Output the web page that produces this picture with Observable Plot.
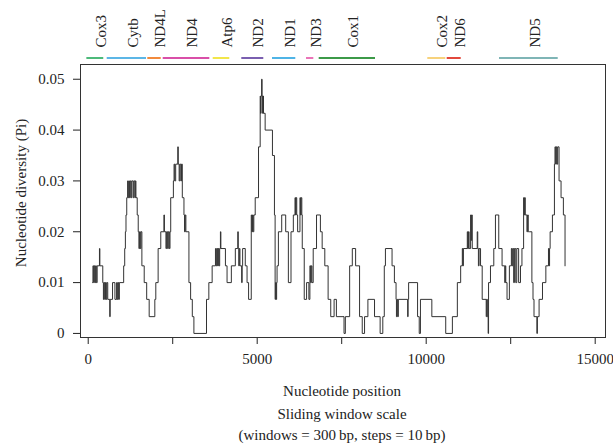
<!DOCTYPE html>
<html>
<head>
<meta charset="utf-8">
<script src="https://cdn.jsdelivr.net/npm/d3@7"></script>
<script src="https://cdn.jsdelivr.net/npm/@observablehq/plot@0.6"></script>
<style>
  html, body { margin: 0; padding: 0; background: #fff; }
  #wrap { position: relative; width: 613px; height: 445px; font-family: "Liberation Serif", "Times New Roman", serif; color: #222; }
  .lab { position: absolute; white-space: nowrap; font-size: 15px; line-height: 18px; transform: translate(-50%, -50%); }
  #ylab { left: 21px; top: 193px; transform: translate(-50%, -50%) rotate(-90deg); }
</style>
</head>
<body>
<div id="wrap">
  <div id="chart"></div>
  <div class="lab" id="ylab">Nucleotide diversity (Pi)</div>
  <div class="lab" style="left:342px; top:391px;">Nucleotide position</div>
  <div class="lab" style="left:342px; top:414px;">Sliding window scale</div>
  <div class="lab" style="left:342px; top:435px;">(windows = 300&#8201;bp, steps = 10&#8201;bp)</div>
</div>
<script>
// Sliding-window change points (nucleotide position) and nucleotide diversity (Pi)
const positions = [130,140,160,180,200,220,240,265,333,345,431,450,470,490,510,530,550,578,637,650,720,790,840,860,880,900,922,1049,1080,1100,1118,1140,1167,1180,1200,1220,1245,1270,1290,1330,1350,1380,1395,1412,1450,1480,1500,1520,1540,1560,1588,1657,1730,1804,1971,2000,2069,2147,2240,2255,2300,2320,2350,2370,2400,2420,2441,2520,2540,2560,2588,2650,2665,2690,2710,2740,2760,2784,2833,2850,2870,2890,2980,3030,3080,3127,3500,3569,3667,3765,3790,3810,3830,3850,3870,3890,3912,3925,4060,4108,4235,4353,4425,4440,4455,4470,4490,4540,4555,4569,4647,4700,4745,4824,4840,4860,4880,4900,4941,5039,5088,5100,5115,5130,5145,5160,5175,5186,5235,5451,5510,5530,5545,5560,5575,5588,5627,5725,5843,5922,6000,6069,6118,6135,6150,6170,6196,6265,6280,6300,6320,6333,6392,6461,6529,6559,6580,6600,6620,6657,6755,6870,6922,7000,7098,7176,7275,7343,7569,7608,7735,7814,7912,8029,8108,8176,8275,8471,8637,8716,8760,8794,8990,9059,9108,9120,9140,9160,9175,9451,9465,9480,9745,9794,9830,10167,10578,10775,10922,11020,11069,11085,11100,11216,11230,11250,11270,11314,11330,11345,11363,11510,11525,11545,11565,11608,11657,11775,11790,11810,11833,11845,11902,12000,12049,12147,12245,12324,12340,12355,12392,12461,12520,12540,12560,12588,12610,12650,12680,12735,12790,12833,12882,12900,12915,12931,12980,13000,13020,13049,13127,13160,13190,13275,13290,13340,13441,13540,13618,13635,13650,13667,13735,13794,13810,13830,13850,13870,13890,13931,13990,14059,14108];
const piValues = [0.01,0.0133,0.01,0.0133,0.01,0.0133,0.01,0.0133,0.0167,0.0133,0.01,0.0067,0.01,0.0067,0.01,0.0067,0.01,0.0067,0.0033,0.0067,0.01,0.0067,0.01,0.0067,0.01,0.0067,0.01,0.0133,0.0167,0.02,0.0233,0.0267,0.03,0.0267,0.03,0.0267,0.03,0.0267,0.03,0.0267,0.03,0.0267,0.03,0.0267,0.0233,0.02,0.0167,0.02,0.0167,0.02,0.0133,0.01,0.0067,0.0033,0.0067,0.01,0.0167,0.02,0.0233,0.02,0.0167,0.02,0.0167,0.02,0.0167,0.02,0.0267,0.03,0.0333,0.03,0.0333,0.0367,0.0333,0.03,0.0333,0.03,0.0333,0.0267,0.0233,0.02,0.0233,0.02,0.01,0.0067,0.0033,0,0.0067,0.01,0.0133,0.0167,0.0133,0.0167,0.0133,0.0167,0.0133,0.0167,0.02,0.0167,0.0133,0.01,0.0133,0.0167,0.02,0.0167,0.0133,0.0167,0.0133,0.01,0.0133,0.0167,0.0133,0.01,0.0067,0.0233,0.02,0.0233,0.02,0.0233,0.0267,0.0367,0.0467,0.0433,0.0467,0.05,0.0467,0.0433,0.0467,0.0433,0.04,0.035,0.0233,0.0067,0.01,0.0067,0.01,0.0133,0.02,0.0233,0.02,0.01,0.02,0.0233,0.0267,0.0233,0.0267,0.0233,0.02,0.0267,0.0233,0.0267,0.0233,0.0167,0.0067,0.01,0.0067,0.0133,0.01,0.0133,0.01,0.0167,0.0233,0.02,0.0167,0.0133,0.0067,0.0033,0.0067,0.0033,0,0.0033,0.0133,0.0167,0.0133,0.0033,0,0.0033,0.0067,0.0033,0,0.0033,0.0133,0.0167,0.0133,0.01,0.0067,0.0033,0.0067,0.0033,0.0067,0.0033,0.0067,0.01,0.0033,0,0.0067,0.0033,0,0.0033,0.01,0.0133,0.0167,0.0133,0.0167,0.02,0.0167,0.02,0.0167,0.0233,0.0183,0.0233,0.0167,0.02,0.0167,0.0133,0.0167,0.0133,0.0067,0.0033,0.0067,0.0033,0,0.01,0.0133,0.0167,0.0233,0.0167,0.0133,0.01,0.0133,0.01,0.0067,0.0133,0.0167,0.0133,0.0167,0.01,0.0167,0.01,0.0167,0.01,0.0133,0.0167,0.0267,0.0233,0.0267,0.0233,0.02,0.0233,0.02,0.02,0.01,0.0067,0.0033,0,0.0033,0.0067,0.01,0.0133,0.0167,0.0133,0.0167,0.02,0.0233,0.0333,0.0367,0.0333,0.0367,0.0333,0.0367,0.03,0.0267,0.0233,0.0133];

// Gene annotation
const geneNames  = ["Cox3","Cytb","ND4L","ND4","Atp6","ND2","ND1","ND3","Cox1","Cox2","ND6","ND5"];
const geneStart  = [-40,562,1763,2219,3698,4544,5453,6459,6834,10047,10621,12169];
const geneEnd    = [460,1725,2160,3598,4189,5195,6142,6675,8500,10580,11036,13906];
const geneColors = ["#4dba7a","#5cb6e6","#f28a3c","#d94fa8","#f2e64a","#7a5fb0","#4fb4e6","#ea74b8","#3c9a48","#f7d27c","#e2483c","#7fb5b6"];

// Axis ticks
const xTicks = [0,2500,5000,7500,10000,12500,15000];
const yTicks = [0,0.01,0.02,0.03,0.04,0.05];

const series = positions.map((x, i) => ({x, pi: piValues[i]}));
const genes = geneNames.map((name, i) => ({name, start: geneStart[i], end: geneEnd[i], color: geneColors[i]}));

const xDomain = [-228, 15305];
const yDomain = [-0.0008, 0.0529];

const chart = Plot.plot({
  width: 613,
  height: 360,
  marginTop: 64,
  marginBottom: 23,
  marginLeft: 80,
  marginRight: 8,
  style: {fontFamily: "'Liberation Serif', 'Times New Roman', serif", fontSize: "15px", color: "#222", background: "#fff", overflow: "visible"},
  x: {domain: xDomain, ticks: xTicks, tickFormat: d => (d % 5000 === 0 ? String(d) : ""), tickSize: 7, tickPadding: 9, label: null},
  y: {domain: yDomain, ticks: yTicks, tickFormat: d => (d === 0 ? "0" : d.toFixed(2)), tickSize: 7, tickPadding: 9, label: null},
  color: {type: "identity"},
  marks: [
    Plot.frame({stroke: "#333", strokeWidth: 1}),
    Plot.line(series, {x: "x", y: "pi", curve: "step-after", stroke: "#333", strokeWidth: 1}),
    Plot.ruleY(genes, {y: () => yDomain[1], x1: "start", x2: "end", stroke: "color", strokeWidth: 2, dy: -6.5}),
    Plot.text(genes, {x: d => (d.start + d.end) / 2, text: "name", frameAnchor: "top", rotate: -90, textAnchor: "start", dy: -17, fontSize: 15, fill: "#222"})
  ]
});
document.getElementById("chart").appendChild(chart);
</script>
</body>
</html>
